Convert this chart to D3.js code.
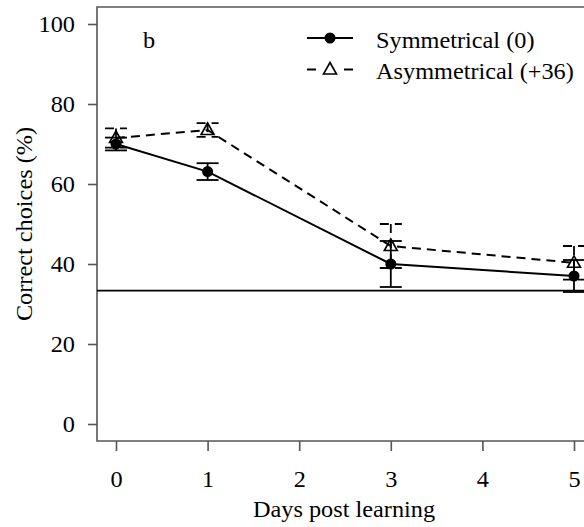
<!DOCTYPE html>
<html>
<head>
<meta charset="utf-8">
<script src="https://cdn.jsdelivr.net/npm/d3@7/dist/d3.min.js"></script>
<style>
  html, body { margin: 0; padding: 0; background: #fff; }
  svg { display: block; }
</style>
</head>
<body>
<svg id="chart" width="584" height="527" font-family="Liberation Serif"></svg>
<script>
// Days after learning at which memory was tested
const days = [0, 1, 3, 5];
// Mean percentage of correct choices and error (half-length) per condition
const symMean = [70, 63.1, 40, 37];
const symErr = [1.6, 2.1, 5.75, 4];
const asymMean = [71.5, 73.5, 44.5, 40.3];
const asymErr = [2.4, 1.7, 5.5, 4.2];
// Chance level (one of three choices)
const chance = 100 / 3;
const xTicks = [0, 1, 2, 3, 4, 5];
const yTicks = [0, 20, 40, 60, 80, 100];
const seriesNames = ["Symmetrical (0)", "Asymmetrical (+36)"];
const panelLabel = "b";
const xTitle = "Days post learning";
const yTitle = "Correct choices (%)";

const FONT = "Liberation Serif";
const svg = d3.select("#chart");
const stretch = 1.08;           // slightly wide serif glyphs
const fontSize = 22.5;
const axisColor = "#555";
const dash = "9,6";

const x = d3.scaleLinear().domain([0, 5]).range([116, 574]);
const y = d3.scaleLinear().domain([0, 100]).range([424, 24]);

const frameLeft = 97, frameTop = 7, frameBottom = 441;

// plot frame (right side runs off the canvas)
svg.append("path")
  .attr("d", `M700,${frameTop}H${frameLeft}V${frameBottom}H700`)
  .attr("fill", "none").attr("stroke", axisColor).attr("stroke-width", 1.6);

function stretchText(sel) {
  sel.each(function () {
    const t = d3.select(this);
    const tx = +t.attr("x") || 0, ty = +t.attr("y") || 0;
    t.attr("x", 0).attr("y", 0).attr("dy", null)
     .attr("transform", `translate(${tx},${ty}) scale(${stretch},1)`);
  });
}

function label(sel) {
  return sel.attr("font-family", FONT).attr("font-size", fontSize).attr("fill", "#000");
}

// y axis
const yAxis = svg.append("g")
  .attr("transform", `translate(${frameLeft},0)`)
  .call(d3.axisLeft(y).tickValues(yTicks).tickSize(9).tickPadding(0).tickFormat(d3.format("d")));
yAxis.attr("font-family", FONT);
yAxis.select(".domain").remove();
yAxis.selectAll("line").attr("stroke", axisColor).attr("stroke-width", 1.6);
yAxis.selectAll("text").call(label)
  .attr("text-anchor", "end")
  .attr("x", -22).attr("y", 7.5).call(stretchText);

// x axis
const xAxis = svg.append("g")
  .attr("transform", `translate(0,${frameBottom})`)
  .call(d3.axisBottom(x).tickValues(xTicks).tickSize(10).tickPadding(0).tickFormat(d3.format("d")));
xAxis.attr("font-family", FONT);
xAxis.select(".domain").remove();
xAxis.selectAll("line").attr("stroke", axisColor).attr("stroke-width", 1.6);
xAxis.selectAll("text").call(label)
  .attr("text-anchor", "middle")
  .attr("x", 0).attr("y", 46).call(stretchText);

// axis titles
svg.append("text").call(label)
  .attr("text-anchor", "middle")
  .attr("transform", `translate(344,517) scale(${stretch},1)`)
  .text(xTitle);
svg.append("text").call(label)
  .attr("text-anchor", "middle")
  .attr("transform", `translate(32,224) rotate(-90) scale(${stretch},1)`)
  .text(yTitle);

// panel label
svg.append("text").call(label)
  .attr("transform", `translate(143,48) scale(${stretch},1)`)
  .text(panelLabel);

// chance level
svg.append("line")
  .attr("x1", frameLeft).attr("x2", 700)
  .attr("y1", y(chance)).attr("y2", y(chance))
  .attr("stroke", "#000").attr("stroke-width", 1.8);

const triPath = "M0,-7L6.5,4.5L-6.5,4.5Z";
const capHalf = 11;

function drawSeries(means, errs, dashed, marker) {
  const data = days.map((d, i) => ({ d, m: means[i], e: errs[i] }));
  const g = svg.append("g");
  const da = dashed ? dash : null;
  // error bars
  const eb = g.selectAll(".eb").data(data).join("g");
  eb.append("line")
    .attr("x1", d => x(d.d)).attr("x2", d => x(d.d))
    .attr("y1", d => y(d.m + d.e)).attr("y2", d => y(d.m - d.e))
    .attr("stroke", "#000").attr("stroke-width", 1.8).attr("stroke-dasharray", da);
  [1, -1].forEach(s => {
    eb.append("line")
      .attr("x1", d => x(d.d) - capHalf).attr("x2", d => x(d.d) + capHalf)
      .attr("y1", d => y(d.m + s * d.e)).attr("y2", d => y(d.m + s * d.e))
      .attr("stroke", "#000").attr("stroke-width", 1.8).attr("stroke-dasharray", da);
  });
  // connecting line
  g.append("path")
    .datum(data)
    .attr("d", d3.line().x(d => x(d.d)).y(d => y(d.m)))
    .attr("fill", "none").attr("stroke", "#000").attr("stroke-width", 2)
    .attr("stroke-dasharray", da);
  // markers
  if (marker === "circle") {
    g.selectAll(".pt").data(data).join("circle")
      .attr("cx", d => x(d.d)).attr("cy", d => y(d.m)).attr("r", 5.5).attr("fill", "#000");
  } else {
    g.selectAll(".pt").data(data).join("path")
      .attr("d", triPath)
      .attr("transform", d => `translate(${x(d.d)},${y(d.m)})`)
      .attr("fill", "none").attr("stroke", "#000").attr("stroke-width", 1.6);
  }
}

drawSeries(asymMean, asymErr, true, "triangle");
drawSeries(symMean, symErr, false, "circle");

// legend
const legend = svg.append("g");
const rows = [
  { name: seriesNames[0], y: 38, dashed: false, marker: "circle" },
  { name: seriesNames[1], y: 69.5, dashed: true, marker: "triangle" }
];
rows.forEach(r => {
  if (r.dashed) {
    legend.append("line").attr("x1", 307).attr("x2", 316).attr("y1", r.y).attr("y2", r.y)
      .attr("stroke", "#000").attr("stroke-width", 2);
    legend.append("line").attr("x1", 344).attr("x2", 353).attr("y1", r.y).attr("y2", r.y)
      .attr("stroke", "#000").attr("stroke-width", 2);
    legend.append("path").attr("d", triPath).attr("transform", `translate(330,${r.y})`)
      .attr("fill", "none").attr("stroke", "#000").attr("stroke-width", 1.6);
  } else {
    legend.append("line").attr("x1", 307).attr("x2", 353).attr("y1", r.y).attr("y2", r.y)
      .attr("stroke", "#000").attr("stroke-width", 2);
    legend.append("circle").attr("cx", 330).attr("cy", r.y).attr("r", 5.5).attr("fill", "#000");
  }
  legend.append("text").call(label)
    .attr("transform", `translate(376,${r.y + 9.5}) scale(${stretch},1)`)
    .text(r.name);
});
</script>
</body>
</html>
